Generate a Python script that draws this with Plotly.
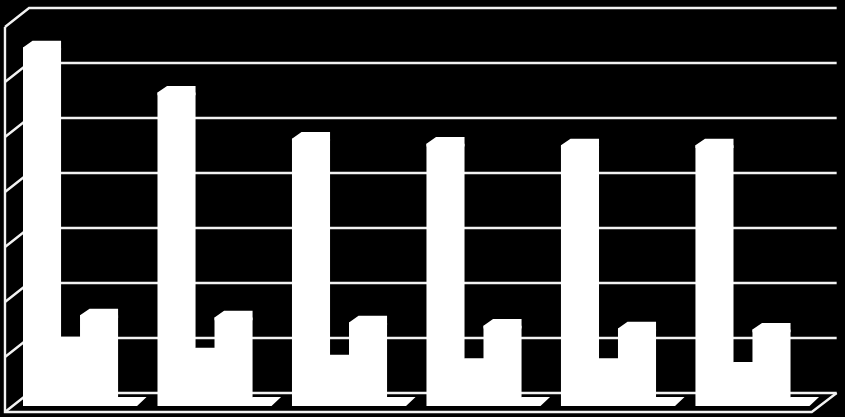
import plotly.graph_objects as go

groups = [0, 1, 2, 3, 4, 5]
series1 = [65.2, 57.0, 48.6, 47.7, 47.4, 47.4]
series2 = [11.4, 9.4, 8.1, 7.5, 7.5, 6.8]
series3 = [16.5, 16.1, 15.2, 14.6, 14.1, 13.9]
series4 = [0, 0, 0, 0, 0, 0]
grid_values = [0, 10, 20, 30, 40, 50, 60, 70]

# pseudo 3d look, sizes in axis units (1 group = 134.5px, 10 value = 55px)
bar_w = 0.212
bar_step = 0.212
depth_x = 0.071
depth_y = 1.2
# the walls sit a bit off the bars
back_x0 = 0.045
back_x1 = 6.05
back_y0 = 2.36
front_x0 = -0.134
front_y0 = -1.09


def bar_trace(values, n):
    xs = [g + n * bar_step for g in groups]
    return go.Bar(x=xs, y=values, width=bar_w + depth_x, offset=0,
                  marker=dict(color="white", line=dict(width=0)))


def top_trace(values, n):
    # slanted top of each bar, runs a bit into the bar so no seam shows
    xs, ys = [], []
    for g, v in zip(groups, values):
        l = g + n * bar_step
        r = l + bar_w + depth_x
        xs += [l, l + depth_x, r, r, l, l, None]
        ys += [v, v + depth_y, v + depth_y, v - 0.5, v - 0.5, v, None]
    return go.Scatter(x=xs, y=ys, mode="lines", fill="toself", fillcolor="white",
                      line=dict(width=0, color="white"))


def floor_trace(values, n):
    # series with no height, only its flat top shows
    xs, ys = [], []
    for g, v in zip(groups, values):
        l = g + n * bar_step
        xs += [l, l + depth_x, l + bar_w + depth_x, l + bar_w, l, None]
        ys += [v, v + 1.65, v + 1.65, v, v, None]
    return go.Scatter(x=xs, y=ys, mode="lines", fill="toself", fillcolor="white",
                      line=dict(width=0, color="white"))


def wall_line(points):
    # shapes, scatter lines would end up on top of the bars
    path = "M " + " L ".join(f"{x},{y}" for x, y in points)
    return dict(type="path", path=path, layer="below", xref="x", yref="y",
                line=dict(color="#f2f2f2", width=2.4))


fig = go.Figure()

fig.add_trace(bar_trace(series1, 0))
fig.add_trace(top_trace(series1, 0))
fig.add_trace(bar_trace(series2, 1))
fig.add_trace(top_trace(series2, 1))
fig.add_trace(bar_trace(series3, 2))
fig.add_trace(top_trace(series3, 2))
fig.add_trace(floor_trace(series4, 3))

# walls and grid behind the bars
walls = [wall_line([(front_x0, front_y0 + v), (back_x0, back_y0 + v), (back_x1, back_y0 + v)])
         for v in grid_values]
walls.append(wall_line([(front_x0, front_y0 + 70), (front_x0, front_y0),
                        (back_x1 - 0.185, front_y0), (back_x1, back_y0)]))

fig.update_layout(width=845, height=417, margin=dict(l=0, r=0, t=0, b=0),
                  paper_bgcolor="black", plot_bgcolor="black",
                  showlegend=False, barmode="overlay", shapes=walls)
fig.update_xaxes(range=[-0.171, 6.112], visible=False)
fig.update_yaxes(range=[-2, 73.82], visible=False)

# page margin would push the chart 8px off
fig.write_html("out.html", config=dict(displayModeBar=False),
               post_script="document.body.style.margin='0';document.body.style.background='black';")
